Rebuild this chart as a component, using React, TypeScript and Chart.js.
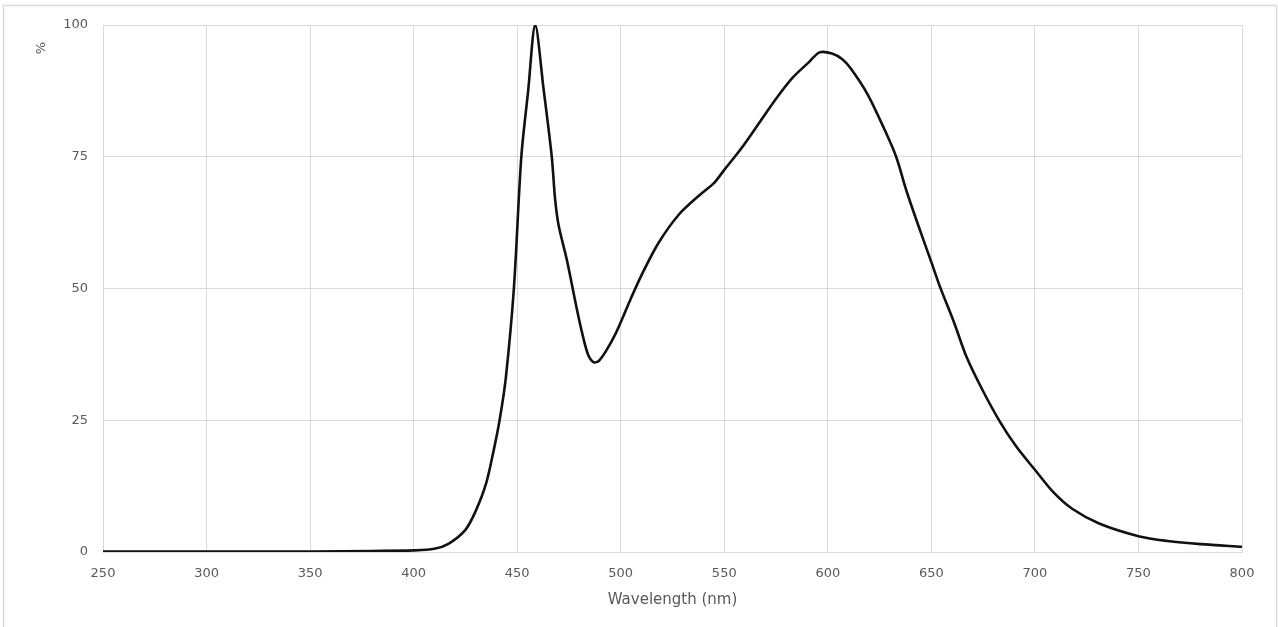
import React, { useEffect, useRef } from "react";
import { Chart, registerables } from "chart.js";

Chart.register(...registerables);

const wavelengths = [
  250, 300, 350, 380, 400, 410, 417, 425, 430, 435, 438.5, 441.5, 444.5, 448.4, 452, 455.3, 458.7,
  462.7, 466.7, 468.3, 470, 474, 478.6, 481.7, 484.3, 487, 489.5, 493, 497.6, 501, 505, 510, 518, 528,
  538, 545, 550, 559, 567, 575, 583, 591, 596, 602, 607, 611, 619, 627, 633, 638, 645, 650, 654,
  661, 667, 675, 683, 691, 700, 709, 718, 731, 750, 764, 780, 800,
];
const intensity = [
  0.1, 0.1, 0.1, 0.2, 0.3, 0.6, 1.6, 4.2, 7.8, 13, 19, 25, 33, 50, 75, 87.5, 100,
  88, 75, 67, 62, 55.4, 46.5, 41, 37.4, 36, 36.3, 38.2, 41.5, 44.5, 48.2, 52.5, 58.5, 64,
  67.7, 70, 72.5, 77, 81.5, 86, 90, 93, 94.8, 94.6, 93.5, 91.8, 87, 80.5, 75, 68.5, 60.5, 55, 50.5,
  43.5, 37, 30.5, 24.8, 20, 15.6, 11.3, 8.2, 5.4, 3, 2.1, 1.5, 1.0,
];
const xTicks = [250, 300, 350, 400, 450, 500, 550, 600, 650, 700, 750, 800];
const yTicks = [0, 25, 50, 75, 100];
const xTitle = "Wavelength (nm)";
const yTitle = "%";

const FONT = "'DejaVu Sans', sans-serif";
const TEXT = "#595959";
const GRID = "#d9d9d9";

export default function App() {
  const ref = useRef<HTMLCanvasElement | null>(null);

  useEffect(() => {
    document.body.style.margin = "0";
    const canvas = ref.current!;
    const framePlugin = {
      id: "frame",
      beforeDraw(chart: any) {
        const ctx = chart.ctx;
        ctx.save();
        ctx.fillStyle = "#ffffff";
        ctx.fillRect(0, 0, chart.width, chart.height);
        ctx.strokeStyle = GRID;
        ctx.lineWidth = 1.5;
        ctx.beginPath();
        ctx.moveTo(3.5, chart.height);
        ctx.lineTo(3.5, 5.5);
        ctx.lineTo(1276.5, 5.5);
        ctx.lineTo(1276.5, chart.height);
        ctx.stroke();
        ctx.restore();
      },
      afterDraw(chart: any) {
        const ctx = chart.ctx;
        const area = chart.chartArea;
        ctx.save();
        ctx.fillStyle = TEXT;
        ctx.font = `15px ${FONT}`;
        ctx.textAlign = "center";
        ctx.textBaseline = "middle";
        ctx.fillText(xTitle, (area.left + area.right) / 2, 600);
        ctx.translate(42, 48);
        ctx.rotate(-Math.PI / 2);
        ctx.font = `13px ${FONT}`;
        ctx.fillText(yTitle, 0, 0);
        ctx.restore();
      },
    };

    const chart = new Chart(canvas, {
      type: "line",
      data: {
        datasets: [
          {
            data: wavelengths.map((w, i) => ({ x: w, y: intensity[i] })),
            borderColor: "#111111",
            borderWidth: 2.6,
            pointRadius: 0,
            fill: false,
            tension: 0.3,
          },
        ],
      },
      options: {
        animation: false,
        responsive: false,
        devicePixelRatio: 1,
        layout: { padding: { top: 25, right: 36, left: 0, bottom: 0 } },
        plugins: { legend: { display: false }, tooltip: { enabled: false } },
        scales: {
          x: {
            type: "linear",
            min: 250,
            max: 800,
            afterBuildTicks: (s: any) => {
              s.ticks = xTicks.map((v) => ({ value: v }));
            },
            afterFit: (s: any) => {
              s.height = 75;
            },
            grid: { color: GRID, lineWidth: 1, drawTicks: false },
            border: { color: GRID },
            ticks: {
              padding: 14,
              color: TEXT,
              font: { family: FONT, size: 13 },
              maxRotation: 0,
              autoSkip: false,
            },
          },
          y: {
            type: "linear",
            min: 0,
            max: 100,
            afterBuildTicks: (s: any) => {
              s.ticks = yTicks.map((v) => ({ value: v }));
            },
            afterFit: (s: any) => {
              s.width = 103;
            },
            grid: { color: GRID, lineWidth: 1, drawTicks: false },
            border: { color: GRID },
            ticks: {
              padding: 15,
              color: TEXT,
              font: { family: FONT, size: 13 },
            },
          },
        },
      },
      plugins: [framePlugin],
    } as any);
    return () => chart.destroy();
  }, []);

  return <canvas ref={ref} width={1278} height={627} style={{ display: "block" }} />;
}
